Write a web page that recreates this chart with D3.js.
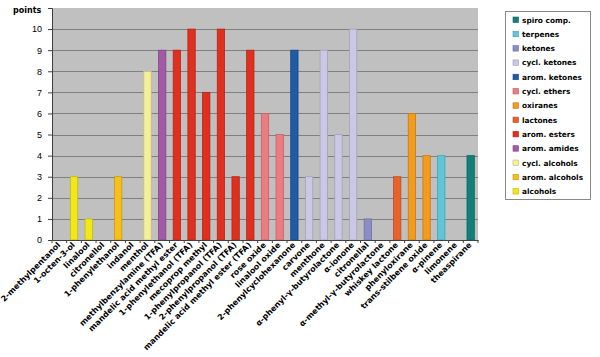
<!DOCTYPE html>
<html><head><meta charset="utf-8">
<script src="https://cdn.jsdelivr.net/npm/d3@7"></script>
<style>body{margin:0;background:#fff}svg{display:block}</style>
</head><body><svg id="c" width="600" height="357"></svg>
<script>
const categories = ["2-methylpentanol","1-octen-3-ol","linalool","citronellol","1-phenylethanol","indanol","menthol","methylbenzylamine (TFA)","mandelic acid methyl ester","1-phenylethanol (TFA)","mecoprop methyl","1-phenylpropanol (TFA)","2-phenylpropanol (TFA)","mandelic acid methyl ester (TFA)","rose oxide","linalool oxide","2-phenylcyclohexanone","carvone","menthone","α-phenyl-γ-butyrolactone","α-ionone","citronellal","α-methyl-γ-butyrolactone","whiskey lactone","phenyloxirane","trans-stilbene oxide","α-pinene","limonene","theaspirane"];
const values = [0,3,1,0,3,0,8,9,9,10,7,10,3,9,6,5,9,3,9,5,10,1,0,3,6,4,4,0,4];
const groups = ["alcohols","alcohols","alcohols","alcohols","arom. alcohols","arom. alcohols","cycl. alcohols","arom. amides","arom. esters","arom. esters","arom. esters","arom. esters","arom. esters","arom. esters","cycl. ethers","cycl. ethers","arom. ketones","cycl. ketones","cycl. ketones","cycl. ketones","cycl. ketones","ketones","lactones","lactones","oxiranes","oxiranes","terpenes","terpenes","spiro comp."];
const legendNames = ["spiro comp.","terpenes","ketones","cycl. ketones","arom. ketones","cycl. ethers","oxiranes","lactones","arom. esters","arom. amides","cycl. alcohols","arom. alcohols","alcohols"];
const legendColors = ["#11807b","#5fc6d9","#8b8dc6","#cbc8e6","#1f5ba7","#ee7b80","#f49a1c","#e8622b","#df2f1f","#a15ba6","#f3ef9a","#f6c016","#f1e71b"];
const yTicks = [0,1,2,3,4,5,6,7,8,9,10];

const svg = d3.select("#c");
const L = 52, R = 478, T = 8, B = 240;
const x = d3.scaleBand().domain(categories).range([L, R]).paddingInner(0.5).paddingOuter(0.25);
const y = d3.scaleLinear().domain([0, 11]).range([B, T]);
const color = d3.scaleOrdinal().domain(legendNames).range(legendColors);

svg.append("rect").attr("x", L).attr("y", T).attr("width", R - L).attr("height", B - T).attr("fill", "#c0c0c0");
svg.append("g").selectAll("line").data(yTicks.slice(1)).join("line")
  .attr("x1", L).attr("x2", R).attr("y1", d => Math.round(y(d)) + 0.5).attr("y2", d => Math.round(y(d)) + 0.5)
  .attr("stroke", "#808080").attr("stroke-width", 1);

svg.append("g").selectAll("rect").data(categories).join("rect")
  .attr("x", d => x(d)).attr("width", x.bandwidth())
  .attr("y", (d, i) => y(values[i])).attr("height", (d, i) => B - y(values[i]))
  .attr("fill", (d, i) => color(groups[i]))
  .attr("stroke", (d, i) => d3.color(color(groups[i])).darker(0.6))
  .attr("stroke-width", 0.8);

// y axis
const ya = svg.append("g").attr("transform", `translate(${L},0)`)
  .call(d3.axisLeft(y).tickValues(yTicks).tickSize(4).tickFormat(d3.format("d")));
ya.select(".domain").attr("stroke", "#404040");
ya.selectAll(".tick line").attr("stroke", "#404040");
ya.selectAll("text").attr("font-family", "Liberation Sans, Arial, sans-serif").attr("font-size", 9).attr("fill", "#000").attr("dx", "-3");

// x axis
const xa = svg.append("g").attr("transform", `translate(0,${B})`)
  .call(d3.axisBottom(x).tickSize(0).tickFormat(""));
xa.select(".domain").attr("stroke", "#404040");
const step = x.step();
svg.append("g").selectAll("line").data(d3.range(categories.length + 1)).join("line")
  .attr("x1", i => L + i * step).attr("x2", i => L + i * step)
  .attr("y1", B).attr("y2", B + 3).attr("stroke", "#404040");

svg.append("g").selectAll("text").data(categories).join("text")
  .attr("transform", d => `translate(${x(d) + x.bandwidth() / 2 + 1.5},${B + 5.5}) rotate(-45)`)
  .attr("text-anchor", "end").attr("font-family", "DejaVu Sans, Verdana, sans-serif")
  .attr("font-weight", "bold").attr("font-size", 8).attr("fill", "#000")
  .text(d => d);

svg.append("text").attr("x", 13).attr("y", 13).attr("font-family", "DejaVu Sans, Verdana, sans-serif")
  .attr("font-weight", "bold").attr("font-size", 8).text("points");

// legend
const lg = svg.append("g");
lg.append("rect").attr("x", 505.5).attr("y", 11.5).attr("width", 85).attr("height", 188)
  .attr("fill", "#fff").attr("stroke", "#888");
const items = lg.selectAll("g").data(legendNames).join("g")
  .attr("transform", (d, i) => `translate(513,${20 + i * 14.3})`);
items.append("rect").attr("x", 0).attr("y", -3).attr("width", 5.5).attr("height", 5.5)
  .attr("fill", (d, i) => legendColors[i]).attr("stroke", (d, i) => d3.color(legendColors[i]).darker(0.7)).attr("stroke-width", 0.6);
items.append("text").attr("x", 9).attr("y", 2.5).attr("font-family", "DejaVu Sans, Verdana, sans-serif")
  .attr("font-weight", "bold").attr("font-size", 7.4).text(d => d);
</script></body></html>
